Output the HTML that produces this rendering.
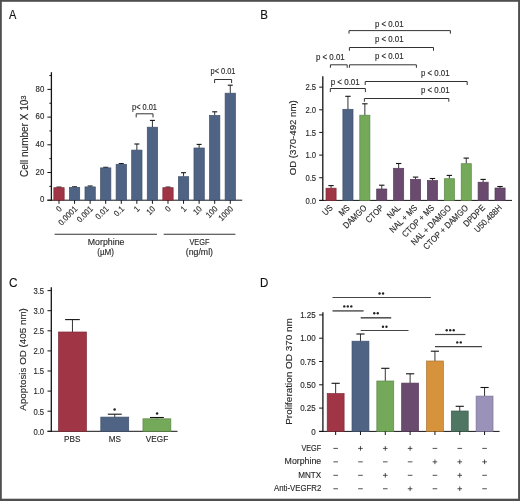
<!DOCTYPE html>
<html><head><meta charset="utf-8"><style>
html,body{margin:0;padding:0;background:#fff;}
svg{display:block;will-change:transform;}
text{font-family:"Liberation Sans",sans-serif;}
</style></head><body>
<svg width="520" height="501" viewBox="0 0 520 501">
<rect x="0" y="0" width="520" height="501" fill="#fff"/>
<rect x="0" y="0" width="520" height="1.8" fill="#4f4f4f"/>
<rect x="0" y="0" width="1.8" height="501" fill="#4f4f4f"/>
<rect x="518.1" y="0" width="1.9" height="501" fill="#4f4f4f"/>
<rect x="0" y="498.7" width="520" height="2.3" fill="#4f4f4f"/>
<text x="0" y="0" transform="translate(8.90 19.20) scale(0.86 1)" font-size="12.8" text-anchor="start" fill="#111" stroke="#111" stroke-width="0.14">A</text>
<text x="0" y="0" transform="translate(260.30 19.30) scale(0.9 1)" font-size="12.8" text-anchor="start" fill="#111" stroke="#111" stroke-width="0.14">B</text>
<text x="0" y="0" transform="translate(8.90 287.10) scale(0.92 1)" font-size="12.8" text-anchor="start" fill="#111" stroke="#111" stroke-width="0.14">C</text>
<text x="0" y="0" transform="translate(260.10 286.90) scale(0.9 1)" font-size="12.8" text-anchor="start" fill="#111" stroke="#111" stroke-width="0.14">D</text>
<line x1="51.40" y1="72.20" x2="51.40" y2="200.70" stroke="#141414" stroke-width="1.3"/>
<line x1="47.40" y1="200.20" x2="51.40" y2="200.20" stroke="#141414" stroke-width="1"/>
<text x="0" y="0" transform="translate(44.30 202.40) scale(0.9 1)" font-size="8.7" text-anchor="end" fill="#2a2a2a" stroke="#2a2a2a" stroke-width="0.14">0</text>
<line x1="47.40" y1="172.50" x2="51.40" y2="172.50" stroke="#141414" stroke-width="1"/>
<text x="0" y="0" transform="translate(44.30 174.70) scale(0.9 1)" font-size="8.7" text-anchor="end" fill="#2a2a2a" stroke="#2a2a2a" stroke-width="0.14">20</text>
<line x1="47.40" y1="144.80" x2="51.40" y2="144.80" stroke="#141414" stroke-width="1"/>
<text x="0" y="0" transform="translate(44.30 147.00) scale(0.9 1)" font-size="8.7" text-anchor="end" fill="#2a2a2a" stroke="#2a2a2a" stroke-width="0.14">40</text>
<line x1="47.40" y1="117.10" x2="51.40" y2="117.10" stroke="#141414" stroke-width="1"/>
<text x="0" y="0" transform="translate(44.30 119.30) scale(0.9 1)" font-size="8.7" text-anchor="end" fill="#2a2a2a" stroke="#2a2a2a" stroke-width="0.14">60</text>
<line x1="47.40" y1="89.40" x2="51.40" y2="89.40" stroke="#141414" stroke-width="1"/>
<text x="0" y="0" transform="translate(44.30 91.60) scale(0.9 1)" font-size="8.7" text-anchor="end" fill="#2a2a2a" stroke="#2a2a2a" stroke-width="0.14">80</text>
<line x1="49.40" y1="186.35" x2="51.40" y2="186.35" stroke="#141414" stroke-width="1"/>
<line x1="49.40" y1="158.65" x2="51.40" y2="158.65" stroke="#141414" stroke-width="1"/>
<line x1="49.40" y1="130.95" x2="51.40" y2="130.95" stroke="#141414" stroke-width="1"/>
<line x1="49.40" y1="103.25" x2="51.40" y2="103.25" stroke="#141414" stroke-width="1"/>
<line x1="49.40" y1="75.55" x2="51.40" y2="75.55" stroke="#141414" stroke-width="1"/>
<line x1="47.40" y1="200.20" x2="242.20" y2="200.20" stroke="#141414" stroke-width="1"/>
<line x1="59.00" y1="187.10" x2="59.00" y2="187.70" stroke="#333" stroke-width="1"/>
<line x1="56.50" y1="187.10" x2="61.50" y2="187.10" stroke="#141414" stroke-width="1.1"/>
<rect x="53.85" y="187.70" width="10.30" height="12.50" fill="#a03546" stroke="#802a38" stroke-width="0.7"/>
<line x1="59.00" y1="200.20" x2="59.00" y2="203.80" stroke="#141414" stroke-width="1"/>
<line x1="74.57" y1="186.80" x2="74.57" y2="187.40" stroke="#333" stroke-width="1"/>
<line x1="72.07" y1="186.80" x2="77.07" y2="186.80" stroke="#141414" stroke-width="1.1"/>
<rect x="69.42" y="187.40" width="10.30" height="12.80" fill="#4f6385" stroke="#3f4f6a" stroke-width="0.7"/>
<line x1="74.57" y1="200.20" x2="74.57" y2="203.80" stroke="#141414" stroke-width="1"/>
<line x1="90.14" y1="186.00" x2="90.14" y2="186.90" stroke="#333" stroke-width="1"/>
<line x1="87.64" y1="186.00" x2="92.64" y2="186.00" stroke="#141414" stroke-width="1.1"/>
<rect x="84.99" y="186.90" width="10.30" height="13.30" fill="#4f6385" stroke="#3f4f6a" stroke-width="0.7"/>
<line x1="90.14" y1="200.20" x2="90.14" y2="203.80" stroke="#141414" stroke-width="1"/>
<line x1="105.71" y1="167.30" x2="105.71" y2="167.90" stroke="#333" stroke-width="1"/>
<line x1="103.21" y1="167.30" x2="108.21" y2="167.30" stroke="#141414" stroke-width="1.1"/>
<rect x="100.56" y="167.90" width="10.30" height="32.30" fill="#4f6385" stroke="#3f4f6a" stroke-width="0.7"/>
<line x1="105.71" y1="200.20" x2="105.71" y2="203.80" stroke="#141414" stroke-width="1"/>
<line x1="121.28" y1="163.60" x2="121.28" y2="164.30" stroke="#333" stroke-width="1"/>
<line x1="118.78" y1="163.60" x2="123.78" y2="163.60" stroke="#141414" stroke-width="1.1"/>
<rect x="116.13" y="164.30" width="10.30" height="35.90" fill="#4f6385" stroke="#3f4f6a" stroke-width="0.7"/>
<line x1="121.28" y1="200.20" x2="121.28" y2="203.80" stroke="#141414" stroke-width="1"/>
<line x1="136.85" y1="144.00" x2="136.85" y2="150.10" stroke="#333" stroke-width="1"/>
<line x1="134.35" y1="144.00" x2="139.35" y2="144.00" stroke="#141414" stroke-width="1.1"/>
<rect x="131.70" y="150.10" width="10.30" height="50.10" fill="#4f6385" stroke="#3f4f6a" stroke-width="0.7"/>
<line x1="136.85" y1="200.20" x2="136.85" y2="203.80" stroke="#141414" stroke-width="1"/>
<line x1="152.42" y1="120.40" x2="152.42" y2="127.20" stroke="#333" stroke-width="1"/>
<line x1="149.92" y1="120.40" x2="154.92" y2="120.40" stroke="#141414" stroke-width="1.1"/>
<rect x="147.27" y="127.20" width="10.30" height="73.00" fill="#4f6385" stroke="#3f4f6a" stroke-width="0.7"/>
<line x1="152.42" y1="200.20" x2="152.42" y2="203.80" stroke="#141414" stroke-width="1"/>
<line x1="167.99" y1="187.10" x2="167.99" y2="187.70" stroke="#333" stroke-width="1"/>
<line x1="165.49" y1="187.10" x2="170.49" y2="187.10" stroke="#141414" stroke-width="1.1"/>
<rect x="162.84" y="187.70" width="10.30" height="12.50" fill="#a03546" stroke="#802a38" stroke-width="0.7"/>
<line x1="167.99" y1="200.20" x2="167.99" y2="203.80" stroke="#141414" stroke-width="1"/>
<line x1="183.56" y1="172.70" x2="183.56" y2="176.70" stroke="#333" stroke-width="1"/>
<line x1="181.06" y1="172.70" x2="186.06" y2="172.70" stroke="#141414" stroke-width="1.1"/>
<rect x="178.41" y="176.70" width="10.30" height="23.50" fill="#4f6385" stroke="#3f4f6a" stroke-width="0.7"/>
<line x1="183.56" y1="200.20" x2="183.56" y2="203.80" stroke="#141414" stroke-width="1"/>
<line x1="199.13" y1="144.40" x2="199.13" y2="148.00" stroke="#333" stroke-width="1"/>
<line x1="196.63" y1="144.40" x2="201.63" y2="144.40" stroke="#141414" stroke-width="1.1"/>
<rect x="193.98" y="148.00" width="10.30" height="52.20" fill="#4f6385" stroke="#3f4f6a" stroke-width="0.7"/>
<line x1="199.13" y1="200.20" x2="199.13" y2="203.80" stroke="#141414" stroke-width="1"/>
<line x1="214.70" y1="111.80" x2="214.70" y2="115.50" stroke="#333" stroke-width="1"/>
<line x1="212.20" y1="111.80" x2="217.20" y2="111.80" stroke="#141414" stroke-width="1.1"/>
<rect x="209.55" y="115.50" width="10.30" height="84.70" fill="#4f6385" stroke="#3f4f6a" stroke-width="0.7"/>
<line x1="214.70" y1="200.20" x2="214.70" y2="203.80" stroke="#141414" stroke-width="1"/>
<line x1="230.27" y1="85.20" x2="230.27" y2="93.20" stroke="#333" stroke-width="1"/>
<line x1="227.77" y1="85.20" x2="232.77" y2="85.20" stroke="#141414" stroke-width="1.1"/>
<rect x="225.12" y="93.20" width="10.30" height="107.00" fill="#4f6385" stroke="#3f4f6a" stroke-width="0.7"/>
<line x1="230.27" y1="200.20" x2="230.27" y2="203.80" stroke="#141414" stroke-width="1"/>
<text x="0" y="0" transform="translate(62.40 209.60) rotate(-45) scale(0.9 1)" font-size="8.4" text-anchor="end" fill="#2a2a2a" stroke="#2a2a2a" stroke-width="0.14">0</text>
<text x="0" y="0" transform="translate(77.97 209.60) rotate(-45) scale(0.9 1)" font-size="8.4" text-anchor="end" fill="#2a2a2a" stroke="#2a2a2a" stroke-width="0.14">0.0001</text>
<text x="0" y="0" transform="translate(93.54 209.60) rotate(-45) scale(0.9 1)" font-size="8.4" text-anchor="end" fill="#2a2a2a" stroke="#2a2a2a" stroke-width="0.14">0.001</text>
<text x="0" y="0" transform="translate(109.11 209.60) rotate(-45) scale(0.9 1)" font-size="8.4" text-anchor="end" fill="#2a2a2a" stroke="#2a2a2a" stroke-width="0.14">0.01</text>
<text x="0" y="0" transform="translate(124.68 209.60) rotate(-45) scale(0.9 1)" font-size="8.4" text-anchor="end" fill="#2a2a2a" stroke="#2a2a2a" stroke-width="0.14">0.1</text>
<text x="0" y="0" transform="translate(140.25 209.60) rotate(-45) scale(0.9 1)" font-size="8.4" text-anchor="end" fill="#2a2a2a" stroke="#2a2a2a" stroke-width="0.14">1</text>
<text x="0" y="0" transform="translate(155.82 209.60) rotate(-45) scale(0.9 1)" font-size="8.4" text-anchor="end" fill="#2a2a2a" stroke="#2a2a2a" stroke-width="0.14">10</text>
<text x="0" y="0" transform="translate(171.39 209.60) rotate(-45) scale(0.9 1)" font-size="8.4" text-anchor="end" fill="#2a2a2a" stroke="#2a2a2a" stroke-width="0.14">0</text>
<text x="0" y="0" transform="translate(186.96 209.60) rotate(-45) scale(0.9 1)" font-size="8.4" text-anchor="end" fill="#2a2a2a" stroke="#2a2a2a" stroke-width="0.14">1</text>
<text x="0" y="0" transform="translate(202.53 209.60) rotate(-45) scale(0.9 1)" font-size="8.4" text-anchor="end" fill="#2a2a2a" stroke="#2a2a2a" stroke-width="0.14">10</text>
<text x="0" y="0" transform="translate(218.10 209.60) rotate(-45) scale(0.9 1)" font-size="8.4" text-anchor="end" fill="#2a2a2a" stroke="#2a2a2a" stroke-width="0.14">100</text>
<text x="0" y="0" transform="translate(233.67 209.60) rotate(-45) scale(0.9 1)" font-size="8.4" text-anchor="end" fill="#2a2a2a" stroke="#2a2a2a" stroke-width="0.14">1000</text>
<line x1="54.60" y1="234.30" x2="157.00" y2="234.30" stroke="#333" stroke-width="1.1"/>
<line x1="163.70" y1="234.30" x2="235.40" y2="234.30" stroke="#333" stroke-width="1.1"/>
<text x="0" y="0" transform="translate(106.10 245.20)" font-size="8.6" text-anchor="middle" fill="#2a2a2a" stroke="#2a2a2a" stroke-width="0.14" textLength="36.6" lengthAdjust="spacingAndGlyphs">Morphine</text>
<text x="0" y="0" transform="translate(105.60 255.40)" font-size="8.6" text-anchor="middle" fill="#2a2a2a" stroke="#2a2a2a" stroke-width="0.14" textLength="16.8" lengthAdjust="spacingAndGlyphs">(µM)</text>
<text x="0" y="0" transform="translate(199.40 245.00)" font-size="8.6" text-anchor="middle" fill="#2a2a2a" stroke="#2a2a2a" stroke-width="0.14" textLength="20" lengthAdjust="spacingAndGlyphs">VEGF</text>
<text x="0" y="0" transform="translate(199.40 255.30)" font-size="8.6" text-anchor="middle" fill="#2a2a2a" stroke="#2a2a2a" stroke-width="0.14" textLength="27.2" lengthAdjust="spacingAndGlyphs">(ng/ml)</text>
<text x="0" y="0" transform="translate(28.00 136.20) rotate(-90)" font-size="10" text-anchor="middle" fill="#2a2a2a" stroke="#2a2a2a" stroke-width="0.14">Cell number X 10<tspan font-size="7.7" dy="-2.4">3</tspan></text>
<path d="M136.20 117.40V113.80H153.00V117.40" fill="none" stroke="#333" stroke-width="1"/>
<text x="0" y="0" transform="translate(132.00 110.40)" font-size="8.2" text-anchor="start" fill="#2a2a2a" stroke="#2a2a2a" stroke-width="0.14" textLength="25" lengthAdjust="spacingAndGlyphs">p&lt; 0.01</text>
<path d="M214.60 83.10V79.50H231.60V83.10" fill="none" stroke="#333" stroke-width="1"/>
<text x="0" y="0" transform="translate(210.50 74.40)" font-size="8.2" text-anchor="start" fill="#2a2a2a" stroke="#2a2a2a" stroke-width="0.14" textLength="25" lengthAdjust="spacingAndGlyphs">p&lt; 0.01</text>
<line x1="322.80" y1="76.30" x2="322.80" y2="200.90" stroke="#141414" stroke-width="1.3"/>
<line x1="319.20" y1="200.40" x2="322.80" y2="200.40" stroke="#141414" stroke-width="1"/>
<text x="0" y="0" transform="translate(316.10 203.50) scale(0.88 1)" font-size="8.7" text-anchor="end" fill="#2a2a2a" stroke="#2a2a2a" stroke-width="0.14">0.0</text>
<line x1="319.20" y1="177.75" x2="322.80" y2="177.75" stroke="#141414" stroke-width="1"/>
<text x="0" y="0" transform="translate(316.10 180.85) scale(0.88 1)" font-size="8.7" text-anchor="end" fill="#2a2a2a" stroke="#2a2a2a" stroke-width="0.14">0.5</text>
<line x1="319.20" y1="155.10" x2="322.80" y2="155.10" stroke="#141414" stroke-width="1"/>
<text x="0" y="0" transform="translate(316.10 158.20) scale(0.88 1)" font-size="8.7" text-anchor="end" fill="#2a2a2a" stroke="#2a2a2a" stroke-width="0.14">1.0</text>
<line x1="319.20" y1="132.45" x2="322.80" y2="132.45" stroke="#141414" stroke-width="1"/>
<text x="0" y="0" transform="translate(316.10 135.55) scale(0.88 1)" font-size="8.7" text-anchor="end" fill="#2a2a2a" stroke="#2a2a2a" stroke-width="0.14">1.5</text>
<line x1="319.20" y1="109.80" x2="322.80" y2="109.80" stroke="#141414" stroke-width="1"/>
<text x="0" y="0" transform="translate(316.10 112.90) scale(0.88 1)" font-size="8.7" text-anchor="end" fill="#2a2a2a" stroke="#2a2a2a" stroke-width="0.14">2.0</text>
<line x1="319.20" y1="87.15" x2="322.80" y2="87.15" stroke="#141414" stroke-width="1"/>
<text x="0" y="0" transform="translate(316.10 90.25) scale(0.88 1)" font-size="8.7" text-anchor="end" fill="#2a2a2a" stroke="#2a2a2a" stroke-width="0.14">2.5</text>
<line x1="319.20" y1="200.40" x2="512.00" y2="200.40" stroke="#141414" stroke-width="1"/>
<line x1="331.05" y1="185.60" x2="331.05" y2="188.20" stroke="#333" stroke-width="1"/>
<line x1="328.35" y1="185.60" x2="333.75" y2="185.60" stroke="#141414" stroke-width="1.1"/>
<rect x="326.00" y="188.20" width="10.10" height="12.20" fill="#a03546" stroke="#802a38" stroke-width="0.7"/>
<line x1="347.95" y1="96.30" x2="347.95" y2="109.30" stroke="#333" stroke-width="1"/>
<line x1="345.25" y1="96.30" x2="350.65" y2="96.30" stroke="#141414" stroke-width="1.1"/>
<rect x="342.90" y="109.30" width="10.10" height="91.10" fill="#4f6385" stroke="#3f4f6a" stroke-width="0.7"/>
<line x1="364.85" y1="103.80" x2="364.85" y2="115.20" stroke="#333" stroke-width="1"/>
<line x1="362.15" y1="103.80" x2="367.55" y2="103.80" stroke="#141414" stroke-width="1.1"/>
<rect x="359.80" y="115.20" width="10.10" height="85.20" fill="#74a95a" stroke="#5c8748" stroke-width="0.7"/>
<line x1="381.75" y1="185.20" x2="381.75" y2="189.00" stroke="#333" stroke-width="1"/>
<line x1="379.05" y1="185.20" x2="384.45" y2="185.20" stroke="#141414" stroke-width="1.1"/>
<rect x="376.70" y="189.00" width="10.10" height="11.40" fill="#6b4a6f" stroke="#553b58" stroke-width="0.7"/>
<line x1="398.65" y1="163.50" x2="398.65" y2="168.30" stroke="#333" stroke-width="1"/>
<line x1="395.95" y1="163.50" x2="401.35" y2="163.50" stroke="#141414" stroke-width="1.1"/>
<rect x="393.60" y="168.30" width="10.10" height="32.10" fill="#6b4a6f" stroke="#553b58" stroke-width="0.7"/>
<line x1="415.55" y1="177.10" x2="415.55" y2="179.40" stroke="#333" stroke-width="1"/>
<line x1="412.85" y1="177.10" x2="418.25" y2="177.10" stroke="#141414" stroke-width="1.1"/>
<rect x="410.50" y="179.40" width="10.10" height="21.00" fill="#6b4a6f" stroke="#553b58" stroke-width="0.7"/>
<line x1="432.45" y1="178.50" x2="432.45" y2="180.60" stroke="#333" stroke-width="1"/>
<line x1="429.75" y1="178.50" x2="435.15" y2="178.50" stroke="#141414" stroke-width="1.1"/>
<rect x="427.40" y="180.60" width="10.10" height="19.80" fill="#6b4a6f" stroke="#553b58" stroke-width="0.7"/>
<line x1="449.35" y1="175.40" x2="449.35" y2="178.70" stroke="#333" stroke-width="1"/>
<line x1="446.65" y1="175.40" x2="452.05" y2="175.40" stroke="#141414" stroke-width="1.1"/>
<rect x="444.30" y="178.70" width="10.10" height="21.70" fill="#74a95a" stroke="#5c8748" stroke-width="0.7"/>
<line x1="466.25" y1="158.10" x2="466.25" y2="163.70" stroke="#333" stroke-width="1"/>
<line x1="463.55" y1="158.10" x2="468.95" y2="158.10" stroke="#141414" stroke-width="1.1"/>
<rect x="461.20" y="163.70" width="10.10" height="36.70" fill="#74a95a" stroke="#5c8748" stroke-width="0.7"/>
<line x1="483.15" y1="179.40" x2="483.15" y2="182.20" stroke="#333" stroke-width="1"/>
<line x1="480.45" y1="179.40" x2="485.85" y2="179.40" stroke="#141414" stroke-width="1.1"/>
<rect x="478.10" y="182.20" width="10.10" height="18.20" fill="#6b4a6f" stroke="#553b58" stroke-width="0.7"/>
<line x1="500.05" y1="186.50" x2="500.05" y2="188.00" stroke="#333" stroke-width="1"/>
<line x1="497.35" y1="186.50" x2="502.75" y2="186.50" stroke="#141414" stroke-width="1.1"/>
<rect x="495.00" y="188.00" width="10.10" height="12.40" fill="#6b4a6f" stroke="#553b58" stroke-width="0.7"/>
<text x="0" y="0" transform="translate(333.45 208.40) rotate(-45) scale(0.88 1)" font-size="8.8" text-anchor="end" fill="#2a2a2a" stroke="#2a2a2a" stroke-width="0.14">US</text>
<text x="0" y="0" transform="translate(350.35 208.40) rotate(-45) scale(0.88 1)" font-size="8.8" text-anchor="end" fill="#2a2a2a" stroke="#2a2a2a" stroke-width="0.14">MS</text>
<text x="0" y="0" transform="translate(367.25 208.40) rotate(-45) scale(0.88 1)" font-size="8.8" text-anchor="end" fill="#2a2a2a" stroke="#2a2a2a" stroke-width="0.14">DAMGO</text>
<text x="0" y="0" transform="translate(384.15 208.40) rotate(-45) scale(0.88 1)" font-size="8.8" text-anchor="end" fill="#2a2a2a" stroke="#2a2a2a" stroke-width="0.14">CTOP</text>
<text x="0" y="0" transform="translate(401.05 208.40) rotate(-45) scale(0.88 1)" font-size="8.8" text-anchor="end" fill="#2a2a2a" stroke="#2a2a2a" stroke-width="0.14">NAL</text>
<text x="0" y="0" transform="translate(417.95 208.40) rotate(-45) scale(0.88 1)" font-size="8.8" text-anchor="end" fill="#2a2a2a" stroke="#2a2a2a" stroke-width="0.14">NAL + MS</text>
<text x="0" y="0" transform="translate(434.85 208.40) rotate(-45) scale(0.88 1)" font-size="8.8" text-anchor="end" fill="#2a2a2a" stroke="#2a2a2a" stroke-width="0.14">CTOP + MS</text>
<text x="0" y="0" transform="translate(451.75 208.40) rotate(-45) scale(0.88 1)" font-size="8.8" text-anchor="end" fill="#2a2a2a" stroke="#2a2a2a" stroke-width="0.14">NAL + DAMGO</text>
<text x="0" y="0" transform="translate(468.65 208.40) rotate(-45) scale(0.88 1)" font-size="8.8" text-anchor="end" fill="#2a2a2a" stroke="#2a2a2a" stroke-width="0.14">CTOP + DAMGO</text>
<text x="0" y="0" transform="translate(485.55 208.40) rotate(-45) scale(0.88 1)" font-size="8.8" text-anchor="end" fill="#2a2a2a" stroke="#2a2a2a" stroke-width="0.14">DPDPE</text>
<text x="0" y="0" transform="translate(502.45 208.40) rotate(-45) scale(0.88 1)" font-size="8.8" text-anchor="end" fill="#2a2a2a" stroke="#2a2a2a" stroke-width="0.14">U50,488H</text>
<text x="0" y="0" transform="translate(296.40 137.80) rotate(-90)" font-size="9.2" text-anchor="middle" fill="#2a2a2a" stroke="#2a2a2a" stroke-width="0.14" textLength="75" lengthAdjust="spacingAndGlyphs">OD (370-492 nm)</text>
<path d="M349.00 33.70V30.60H450.40V33.70" fill="none" stroke="#333" stroke-width="1"/>
<text x="0" y="0" transform="translate(374.90 26.90)" font-size="8.2" text-anchor="start" fill="#2a2a2a" stroke="#2a2a2a" stroke-width="0.14" textLength="28.6" lengthAdjust="spacingAndGlyphs">p &lt; 0.01</text>
<path d="M349.40 50.80V47.50H433.50V50.80" fill="none" stroke="#333" stroke-width="1"/>
<text x="0" y="0" transform="translate(374.90 41.80)" font-size="8.2" text-anchor="start" fill="#2a2a2a" stroke="#2a2a2a" stroke-width="0.14" textLength="28.6" lengthAdjust="spacingAndGlyphs">p &lt; 0.01</text>
<path d="M330.40 67.80V64.80H347.20V67.80" fill="none" stroke="#333" stroke-width="1"/>
<text x="0" y="0" transform="translate(315.90 60.00)" font-size="8.2" text-anchor="start" fill="#2a2a2a" stroke="#2a2a2a" stroke-width="0.14" textLength="28.8" lengthAdjust="spacingAndGlyphs">p &lt; 0.01</text>
<path d="M349.40 67.80V64.80H416.40V67.80" fill="none" stroke="#333" stroke-width="1"/>
<text x="0" y="0" transform="translate(374.90 59.10)" font-size="8.2" text-anchor="start" fill="#2a2a2a" stroke="#2a2a2a" stroke-width="0.14" textLength="28.6" lengthAdjust="spacingAndGlyphs">p &lt; 0.01</text>
<path d="M365.20 85.00V81.50H467.20V85.00" fill="none" stroke="#333" stroke-width="1"/>
<text x="0" y="0" transform="translate(421.00 75.80)" font-size="8.2" text-anchor="start" fill="#2a2a2a" stroke="#2a2a2a" stroke-width="0.14" textLength="28.6" lengthAdjust="spacingAndGlyphs">p &lt; 0.01</text>
<path d="M330.30 92.10V88.50H365.40V92.10" fill="none" stroke="#333" stroke-width="1"/>
<text x="0" y="0" transform="translate(330.70 84.90)" font-size="8.2" text-anchor="start" fill="#2a2a2a" stroke="#2a2a2a" stroke-width="0.14" textLength="29" lengthAdjust="spacingAndGlyphs">p &lt; 0.01</text>
<path d="M364.40 101.70V98.50H448.80V101.70" fill="none" stroke="#333" stroke-width="1"/>
<text x="0" y="0" transform="translate(421.00 93.00)" font-size="8.2" text-anchor="start" fill="#2a2a2a" stroke="#2a2a2a" stroke-width="0.14" textLength="28.6" lengthAdjust="spacingAndGlyphs">p &lt; 0.01</text>
<line x1="51.30" y1="287.30" x2="51.30" y2="431.80" stroke="#141414" stroke-width="1.3"/>
<line x1="47.50" y1="431.30" x2="51.30" y2="431.30" stroke="#141414" stroke-width="1"/>
<text x="0" y="0" transform="translate(44.10 434.60) scale(0.88 1)" font-size="8.7" text-anchor="end" fill="#2a2a2a" stroke="#2a2a2a" stroke-width="0.14">0.0</text>
<line x1="47.50" y1="411.20" x2="51.30" y2="411.20" stroke="#141414" stroke-width="1"/>
<text x="0" y="0" transform="translate(44.10 414.50) scale(0.88 1)" font-size="8.7" text-anchor="end" fill="#2a2a2a" stroke="#2a2a2a" stroke-width="0.14">0.5</text>
<line x1="47.50" y1="391.10" x2="51.30" y2="391.10" stroke="#141414" stroke-width="1"/>
<text x="0" y="0" transform="translate(44.10 394.40) scale(0.88 1)" font-size="8.7" text-anchor="end" fill="#2a2a2a" stroke="#2a2a2a" stroke-width="0.14">1.0</text>
<line x1="47.50" y1="371.00" x2="51.30" y2="371.00" stroke="#141414" stroke-width="1"/>
<text x="0" y="0" transform="translate(44.10 374.30) scale(0.88 1)" font-size="8.7" text-anchor="end" fill="#2a2a2a" stroke="#2a2a2a" stroke-width="0.14">1.5</text>
<line x1="47.50" y1="350.90" x2="51.30" y2="350.90" stroke="#141414" stroke-width="1"/>
<text x="0" y="0" transform="translate(44.10 354.20) scale(0.88 1)" font-size="8.7" text-anchor="end" fill="#2a2a2a" stroke="#2a2a2a" stroke-width="0.14">2.0</text>
<line x1="47.50" y1="330.80" x2="51.30" y2="330.80" stroke="#141414" stroke-width="1"/>
<text x="0" y="0" transform="translate(44.10 334.10) scale(0.88 1)" font-size="8.7" text-anchor="end" fill="#2a2a2a" stroke="#2a2a2a" stroke-width="0.14">2.5</text>
<line x1="47.50" y1="310.70" x2="51.30" y2="310.70" stroke="#141414" stroke-width="1"/>
<text x="0" y="0" transform="translate(44.10 314.00) scale(0.88 1)" font-size="8.7" text-anchor="end" fill="#2a2a2a" stroke="#2a2a2a" stroke-width="0.14">3.0</text>
<line x1="47.50" y1="290.60" x2="51.30" y2="290.60" stroke="#141414" stroke-width="1"/>
<text x="0" y="0" transform="translate(44.10 293.90) scale(0.88 1)" font-size="8.7" text-anchor="end" fill="#2a2a2a" stroke="#2a2a2a" stroke-width="0.14">3.5</text>
<line x1="47.50" y1="431.30" x2="177.50" y2="431.30" stroke="#141414" stroke-width="1"/>
<line x1="72.45" y1="319.60" x2="72.45" y2="332.00" stroke="#333" stroke-width="1"/>
<line x1="65.10" y1="319.60" x2="79.80" y2="319.60" stroke="#141414" stroke-width="1.1"/>
<rect x="58.50" y="332.00" width="27.90" height="99.30" fill="#a03546" stroke="#802a38" stroke-width="0.7"/>
<line x1="114.75" y1="414.20" x2="114.75" y2="417.10" stroke="#333" stroke-width="1"/>
<line x1="107.80" y1="414.20" x2="121.70" y2="414.20" stroke="#141414" stroke-width="1.1"/>
<rect x="100.80" y="417.10" width="27.90" height="14.20" fill="#4f6385" stroke="#3f4f6a" stroke-width="0.7"/>
<line x1="156.90" y1="417.50" x2="156.90" y2="418.80" stroke="#333" stroke-width="1"/>
<line x1="150.00" y1="417.50" x2="163.80" y2="417.50" stroke="#141414" stroke-width="1.1"/>
<rect x="142.95" y="418.80" width="27.90" height="12.50" fill="#74a95a" stroke="#5c8748" stroke-width="0.7"/>
<circle cx="114.6" cy="409.6" r="1.25" fill="#222"/>
<circle cx="157.1" cy="413.6" r="1.25" fill="#222"/>
<text x="0" y="0" transform="translate(72.30 442.20)" font-size="8.2" text-anchor="middle" fill="#2a2a2a" stroke="#2a2a2a" stroke-width="0.14">PBS</text>
<text x="0" y="0" transform="translate(114.90 442.20)" font-size="8.2" text-anchor="middle" fill="#2a2a2a" stroke="#2a2a2a" stroke-width="0.14">MS</text>
<text x="0" y="0" transform="translate(157.00 442.20)" font-size="8.2" text-anchor="middle" fill="#2a2a2a" stroke="#2a2a2a" stroke-width="0.14">VEGF</text>
<text x="0" y="0" transform="translate(25.70 359.40) rotate(-90)" font-size="9.4" text-anchor="middle" fill="#2a2a2a" stroke="#2a2a2a" stroke-width="0.14" textLength="102.5" lengthAdjust="spacingAndGlyphs">Apoptosis OD (405 nm)</text>
<line x1="322.90" y1="312.30" x2="322.90" y2="431.90" stroke="#141414" stroke-width="1.3"/>
<line x1="319.10" y1="431.40" x2="322.90" y2="431.40" stroke="#141414" stroke-width="1"/>
<text x="0" y="0" transform="translate(315.70 434.50) scale(0.92 1)" font-size="8.7" text-anchor="end" fill="#2a2a2a" stroke="#2a2a2a" stroke-width="0.14">0</text>
<line x1="319.10" y1="408.10" x2="322.90" y2="408.10" stroke="#141414" stroke-width="1"/>
<text x="0" y="0" transform="translate(315.70 411.20) scale(0.92 1)" font-size="8.7" text-anchor="end" fill="#2a2a2a" stroke="#2a2a2a" stroke-width="0.14">0.25</text>
<line x1="319.10" y1="384.80" x2="322.90" y2="384.80" stroke="#141414" stroke-width="1"/>
<text x="0" y="0" transform="translate(315.70 387.90) scale(0.92 1)" font-size="8.7" text-anchor="end" fill="#2a2a2a" stroke="#2a2a2a" stroke-width="0.14">0.50</text>
<line x1="319.10" y1="361.50" x2="322.90" y2="361.50" stroke="#141414" stroke-width="1"/>
<text x="0" y="0" transform="translate(315.70 364.60) scale(0.92 1)" font-size="8.7" text-anchor="end" fill="#2a2a2a" stroke="#2a2a2a" stroke-width="0.14">0.75</text>
<line x1="319.10" y1="338.20" x2="322.90" y2="338.20" stroke="#141414" stroke-width="1"/>
<text x="0" y="0" transform="translate(315.70 341.30) scale(0.92 1)" font-size="8.7" text-anchor="end" fill="#2a2a2a" stroke="#2a2a2a" stroke-width="0.14">1.00</text>
<line x1="319.10" y1="314.90" x2="322.90" y2="314.90" stroke="#141414" stroke-width="1"/>
<text x="0" y="0" transform="translate(315.70 318.00) scale(0.92 1)" font-size="8.7" text-anchor="end" fill="#2a2a2a" stroke="#2a2a2a" stroke-width="0.14">1.25</text>
<line x1="319.00" y1="431.40" x2="499.60" y2="431.40" stroke="#141414" stroke-width="1"/>
<line x1="335.65" y1="383.30" x2="335.65" y2="393.60" stroke="#333" stroke-width="1"/>
<line x1="331.55" y1="383.30" x2="339.75" y2="383.30" stroke="#141414" stroke-width="1.1"/>
<rect x="327.20" y="393.60" width="16.90" height="37.80" fill="#a03546" stroke="#802a38" stroke-width="0.7"/>
<line x1="335.65" y1="431.40" x2="335.65" y2="435.00" stroke="#141414" stroke-width="1"/>
<line x1="360.47" y1="334.00" x2="360.47" y2="341.20" stroke="#333" stroke-width="1"/>
<line x1="356.37" y1="334.00" x2="364.57" y2="334.00" stroke="#141414" stroke-width="1.1"/>
<rect x="352.02" y="341.20" width="16.90" height="90.20" fill="#4f6385" stroke="#3f4f6a" stroke-width="0.7"/>
<line x1="360.47" y1="431.40" x2="360.47" y2="435.00" stroke="#141414" stroke-width="1"/>
<line x1="385.29" y1="368.30" x2="385.29" y2="381.00" stroke="#333" stroke-width="1"/>
<line x1="381.19" y1="368.30" x2="389.39" y2="368.30" stroke="#141414" stroke-width="1.1"/>
<rect x="376.84" y="381.00" width="16.90" height="50.40" fill="#74a95a" stroke="#5c8748" stroke-width="0.7"/>
<line x1="385.29" y1="431.40" x2="385.29" y2="435.00" stroke="#141414" stroke-width="1"/>
<line x1="410.11" y1="373.80" x2="410.11" y2="383.10" stroke="#333" stroke-width="1"/>
<line x1="406.01" y1="373.80" x2="414.21" y2="373.80" stroke="#141414" stroke-width="1.1"/>
<rect x="401.66" y="383.10" width="16.90" height="48.30" fill="#6b4a6f" stroke="#553b58" stroke-width="0.7"/>
<line x1="410.11" y1="431.40" x2="410.11" y2="435.00" stroke="#141414" stroke-width="1"/>
<line x1="434.93" y1="351.20" x2="434.93" y2="361.00" stroke="#333" stroke-width="1"/>
<line x1="430.83" y1="351.20" x2="439.03" y2="351.20" stroke="#141414" stroke-width="1.1"/>
<rect x="426.48" y="361.00" width="16.90" height="70.40" fill="#d6933c" stroke="#ab7530" stroke-width="0.7"/>
<line x1="434.93" y1="431.40" x2="434.93" y2="435.00" stroke="#141414" stroke-width="1"/>
<line x1="459.75" y1="406.30" x2="459.75" y2="411.00" stroke="#333" stroke-width="1"/>
<line x1="455.65" y1="406.30" x2="463.85" y2="406.30" stroke="#141414" stroke-width="1.1"/>
<rect x="451.30" y="411.00" width="16.90" height="20.40" fill="#4e7663" stroke="#3e5e4f" stroke-width="0.7"/>
<line x1="459.75" y1="431.40" x2="459.75" y2="435.00" stroke="#141414" stroke-width="1"/>
<line x1="484.57" y1="387.50" x2="484.57" y2="396.10" stroke="#333" stroke-width="1"/>
<line x1="480.47" y1="387.50" x2="488.67" y2="387.50" stroke="#141414" stroke-width="1.1"/>
<rect x="476.12" y="396.10" width="16.90" height="35.30" fill="#9a92b8" stroke="#7b7493" stroke-width="0.7"/>
<line x1="484.57" y1="431.40" x2="484.57" y2="435.00" stroke="#141414" stroke-width="1"/>
<line x1="332.50" y1="297.50" x2="430.90" y2="297.50" stroke="#444" stroke-width="1.2"/>
<circle cx="379.55" cy="293.50" r="1.2" fill="#222"/>
<circle cx="383.05" cy="293.50" r="1.2" fill="#222"/>
<line x1="332.50" y1="310.90" x2="363.60" y2="310.90" stroke="#555" stroke-width="1.5"/>
<circle cx="344.30" cy="306.40" r="1.2" fill="#222"/>
<circle cx="347.80" cy="306.40" r="1.2" fill="#222"/>
<circle cx="351.30" cy="306.40" r="1.2" fill="#222"/>
<line x1="360.70" y1="317.80" x2="391.20" y2="317.80" stroke="#555" stroke-width="1.6"/>
<circle cx="374.25" cy="313.30" r="1.2" fill="#222"/>
<circle cx="377.75" cy="313.30" r="1.2" fill="#222"/>
<line x1="360.70" y1="330.50" x2="408.50" y2="330.50" stroke="#444" stroke-width="1.2"/>
<circle cx="382.95" cy="326.70" r="1.2" fill="#222"/>
<circle cx="386.45" cy="326.70" r="1.2" fill="#222"/>
<line x1="435.00" y1="334.50" x2="465.40" y2="334.50" stroke="#444" stroke-width="1.2"/>
<circle cx="446.70" cy="330.20" r="1.2" fill="#222"/>
<circle cx="450.20" cy="330.20" r="1.2" fill="#222"/>
<circle cx="453.70" cy="330.20" r="1.2" fill="#222"/>
<line x1="435.00" y1="346.60" x2="481.90" y2="346.60" stroke="#444" stroke-width="1.2"/>
<circle cx="457.25" cy="342.40" r="1.2" fill="#222"/>
<circle cx="460.75" cy="342.40" r="1.2" fill="#222"/>
<text x="0" y="0" transform="translate(292.30 371.50) rotate(-90)" font-size="9.6" text-anchor="middle" fill="#2a2a2a" stroke="#2a2a2a" stroke-width="0.14" textLength="106.5" lengthAdjust="spacingAndGlyphs">Proliferation OD 370 nm</text>
<text x="0" y="0" transform="translate(321.20 451.00)" font-size="9.0" text-anchor="end" fill="#2a2a2a" stroke="#2a2a2a" stroke-width="0.14" textLength="19.8" lengthAdjust="spacingAndGlyphs">VEGF</text>
<line x1="333.35" y1="448.40" x2="337.95" y2="448.40" stroke="#333" stroke-width="0.85"/>
<line x1="358.17" y1="448.40" x2="362.77" y2="448.40" stroke="#333" stroke-width="0.85"/>
<line x1="360.47" y1="446.10" x2="360.47" y2="450.70" stroke="#333" stroke-width="0.85"/>
<line x1="382.99" y1="448.40" x2="387.59" y2="448.40" stroke="#333" stroke-width="0.85"/>
<line x1="385.29" y1="446.10" x2="385.29" y2="450.70" stroke="#333" stroke-width="0.85"/>
<line x1="407.81" y1="448.40" x2="412.41" y2="448.40" stroke="#333" stroke-width="0.85"/>
<line x1="410.11" y1="446.10" x2="410.11" y2="450.70" stroke="#333" stroke-width="0.85"/>
<line x1="432.63" y1="448.40" x2="437.23" y2="448.40" stroke="#333" stroke-width="0.85"/>
<line x1="457.45" y1="448.40" x2="462.05" y2="448.40" stroke="#333" stroke-width="0.85"/>
<line x1="482.27" y1="448.40" x2="486.87" y2="448.40" stroke="#333" stroke-width="0.85"/>
<text x="0" y="0" transform="translate(321.20 464.45)" font-size="9.0" text-anchor="end" fill="#2a2a2a" stroke="#2a2a2a" stroke-width="0.14" textLength="36.6" lengthAdjust="spacingAndGlyphs">Morphine</text>
<line x1="333.35" y1="461.85" x2="337.95" y2="461.85" stroke="#333" stroke-width="0.85"/>
<line x1="358.17" y1="461.85" x2="362.77" y2="461.85" stroke="#333" stroke-width="0.85"/>
<line x1="382.99" y1="461.85" x2="387.59" y2="461.85" stroke="#333" stroke-width="0.85"/>
<line x1="407.81" y1="461.85" x2="412.41" y2="461.85" stroke="#333" stroke-width="0.85"/>
<line x1="432.63" y1="461.85" x2="437.23" y2="461.85" stroke="#333" stroke-width="0.85"/>
<line x1="434.93" y1="459.55" x2="434.93" y2="464.15" stroke="#333" stroke-width="0.85"/>
<line x1="457.45" y1="461.85" x2="462.05" y2="461.85" stroke="#333" stroke-width="0.85"/>
<line x1="459.75" y1="459.55" x2="459.75" y2="464.15" stroke="#333" stroke-width="0.85"/>
<line x1="482.27" y1="461.85" x2="486.87" y2="461.85" stroke="#333" stroke-width="0.85"/>
<line x1="484.57" y1="459.55" x2="484.57" y2="464.15" stroke="#333" stroke-width="0.85"/>
<text x="0" y="0" transform="translate(321.20 477.90)" font-size="9.0" text-anchor="end" fill="#2a2a2a" stroke="#2a2a2a" stroke-width="0.14" textLength="23.0" lengthAdjust="spacingAndGlyphs">MNTX</text>
<line x1="333.35" y1="475.30" x2="337.95" y2="475.30" stroke="#333" stroke-width="0.85"/>
<line x1="358.17" y1="475.30" x2="362.77" y2="475.30" stroke="#333" stroke-width="0.85"/>
<line x1="382.99" y1="475.30" x2="387.59" y2="475.30" stroke="#333" stroke-width="0.85"/>
<line x1="385.29" y1="473.00" x2="385.29" y2="477.60" stroke="#333" stroke-width="0.85"/>
<line x1="407.81" y1="475.30" x2="412.41" y2="475.30" stroke="#333" stroke-width="0.85"/>
<line x1="432.63" y1="475.30" x2="437.23" y2="475.30" stroke="#333" stroke-width="0.85"/>
<line x1="457.45" y1="475.30" x2="462.05" y2="475.30" stroke="#333" stroke-width="0.85"/>
<line x1="459.75" y1="473.00" x2="459.75" y2="477.60" stroke="#333" stroke-width="0.85"/>
<line x1="482.27" y1="475.30" x2="486.87" y2="475.30" stroke="#333" stroke-width="0.85"/>
<text x="0" y="0" transform="translate(321.20 491.35)" font-size="9.0" text-anchor="end" fill="#2a2a2a" stroke="#2a2a2a" stroke-width="0.14" textLength="47.2" lengthAdjust="spacingAndGlyphs">Anti-VEGFR2</text>
<line x1="333.35" y1="488.75" x2="337.95" y2="488.75" stroke="#333" stroke-width="0.85"/>
<line x1="358.17" y1="488.75" x2="362.77" y2="488.75" stroke="#333" stroke-width="0.85"/>
<line x1="382.99" y1="488.75" x2="387.59" y2="488.75" stroke="#333" stroke-width="0.85"/>
<line x1="407.81" y1="488.75" x2="412.41" y2="488.75" stroke="#333" stroke-width="0.85"/>
<line x1="410.11" y1="486.45" x2="410.11" y2="491.05" stroke="#333" stroke-width="0.85"/>
<line x1="432.63" y1="488.75" x2="437.23" y2="488.75" stroke="#333" stroke-width="0.85"/>
<line x1="457.45" y1="488.75" x2="462.05" y2="488.75" stroke="#333" stroke-width="0.85"/>
<line x1="459.75" y1="486.45" x2="459.75" y2="491.05" stroke="#333" stroke-width="0.85"/>
<line x1="482.27" y1="488.75" x2="486.87" y2="488.75" stroke="#333" stroke-width="0.85"/>
</svg>
</body></html>
